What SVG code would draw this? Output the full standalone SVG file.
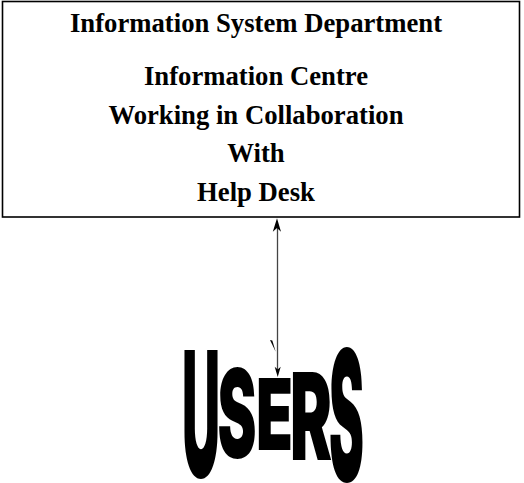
<svg xmlns="http://www.w3.org/2000/svg" width="524" height="483" viewBox="0 0 524 483">
<style>
.t{font-family:"Liberation Serif","Times New Roman",serif;font-weight:bold;font-size:26.7px;fill:#000;text-anchor:middle}
.u{font-family:Inter,"DejaVu Sans",sans-serif;font-weight:900;font-size:100px;fill:#000}
.c{stroke:#444;stroke-width:1.3;fill:none}
.h{fill:#000;stroke:none}
</style>
<rect width="524" height="483" fill="#fff"/>
<g id="dept">
<rect x="2.5" y="1.5" width="517" height="215.5" fill="#fff" stroke="#000" stroke-width="1.6"/>
<text class="t" x="256" y="32">Information System Department</text>
<text class="t" x="256" y="85">Information Centre</text>
<text class="t" x="256" y="123.5">Working in Collaboration</text>
<text class="t" x="256" y="162">With</text>
<text class="t" x="256" y="200.5">Help Desk</text>
</g>
<g id="connectors">
<line class="c" x1="277.5" y1="226" x2="277.5" y2="372"/>
<path class="h" d="M277,218.3 L281,231.7 L277,228 L272.8,231.7 Z"/>
<path class="h" d="M277.7,377 L274.7,366.7 L277.7,369.5 L280.7,366.7 Z"/>
<path class="h" d="M270,340 L272.3,340.5 L275.7,351.7 Z"/>
</g>
<g id="users">
<text class="u" x="182" y="0" textLength="38" lengthAdjust="spacingAndGlyphs" transform="translate(0,477) scale(1,1.74)">U</text>
<text class="u" x="217.5" y="0" textLength="39" lengthAdjust="spacingAndGlyphs" transform="translate(0,458) scale(1,1.24)">S</text>
<text class="u" x="256" y="0" textLength="37" lengthAdjust="spacingAndGlyphs" transform="translate(0,450) scale(1,0.99)">E</text>
<text class="u" x="290" y="0" textLength="42" lengthAdjust="spacingAndGlyphs" transform="translate(0,460) scale(1,1.21)">R</text>
<text class="u" x="329" y="0" textLength="35" lengthAdjust="spacingAndGlyphs" transform="translate(0,481) scale(1,1.82)">S</text>
</g>
</svg>
